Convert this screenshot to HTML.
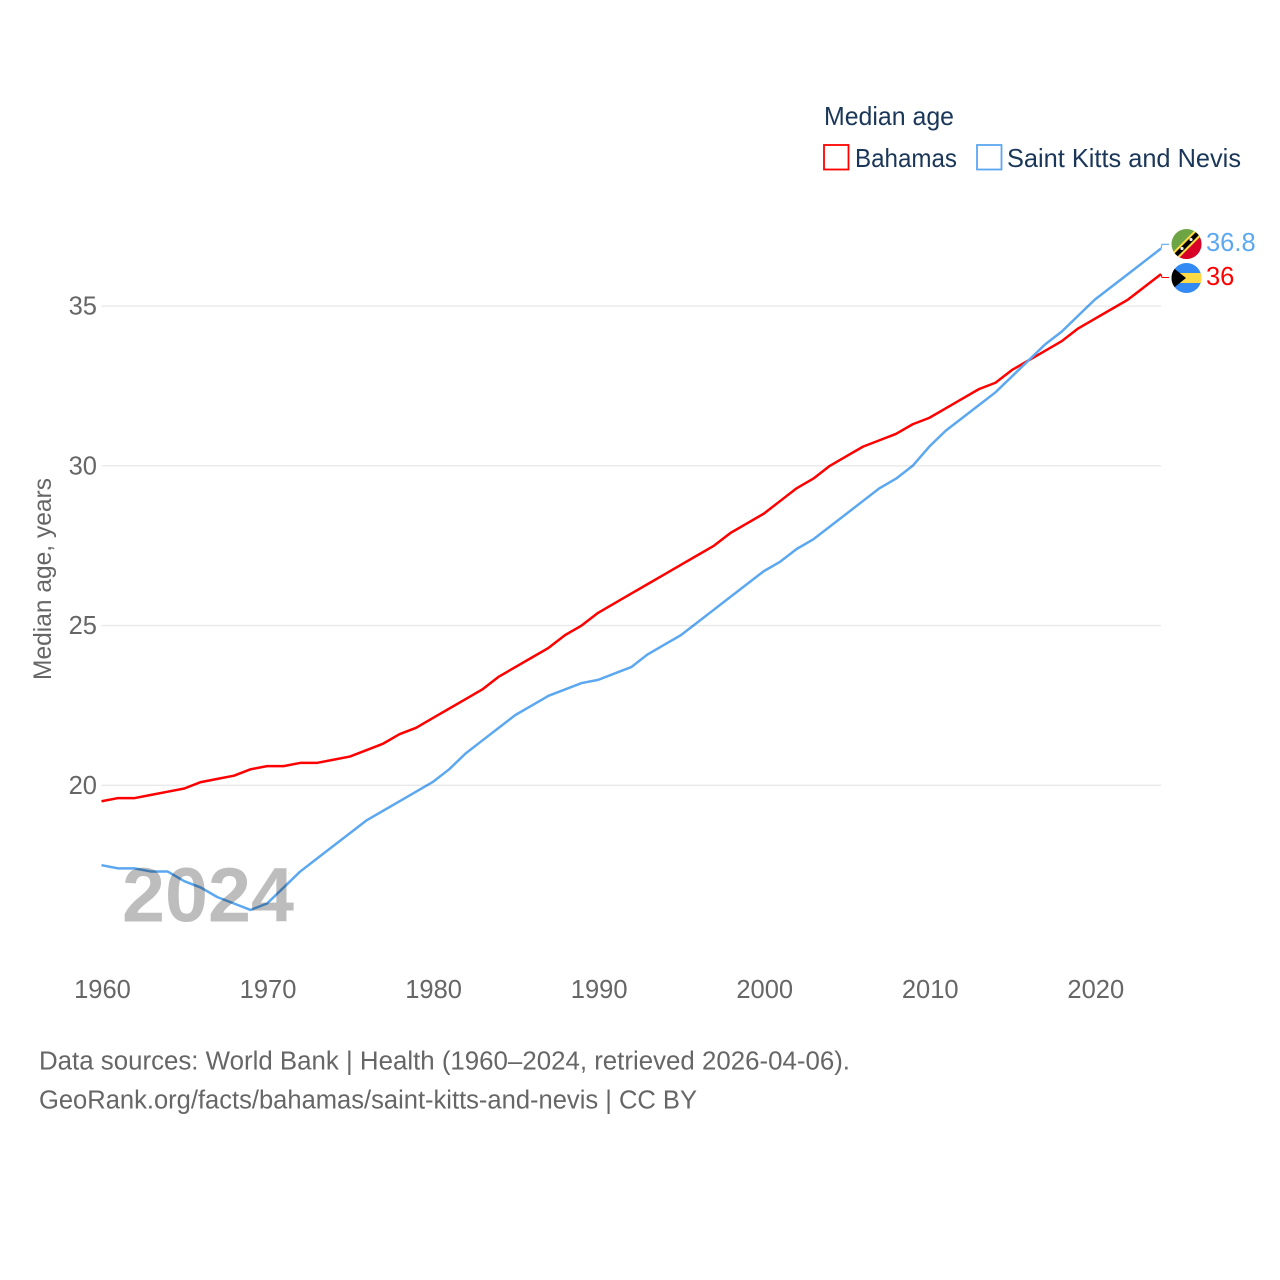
<!DOCTYPE html>
<html lang="en">
<head>
<meta charset="utf-8">
<title>Median age: Bahamas and Saint Kitts and Nevis</title>
<style>
html,body{margin:0;padding:0;background:#fff;width:1280px;height:1280px;overflow:hidden}
svg{display:block}
text{font-family:"Liberation Sans",sans-serif}
</style>
</head>
<body>
<svg id="chart" xmlns="http://www.w3.org/2000/svg" width="1280" height="1280" viewBox="0 0 1280 1280">
  <defs>
    <clipPath id="clip-kn"><circle cx="1186.5" cy="244" r="15"/></clipPath>
    <clipPath id="clip-bs"><circle cx="1186.5" cy="278" r="15"/></clipPath>
  </defs>
  <g id="grid"></g>
  <g id="yticks"></g>
  <g id="xticks"></g>
  <text transform="translate(51,680) rotate(-90)" font-size="25" fill="#666" textLength="202" lengthAdjust="spacingAndGlyphs">Median age, years</text>
  <text x="122" y="921.5" font-size="77" font-weight="bold" fill="#bdbdbd" textLength="172" lengthAdjust="spacingAndGlyphs">2024</text>
  <g id="series" style="mix-blend-mode:multiply"></g>

  <g>
    <text x="824" y="125" font-size="26" fill="#1a3658" textLength="130" lengthAdjust="spacingAndGlyphs">Median age</text>
    <rect x="824" y="145" width="24.5" height="24.5" fill="none" stroke="#ff0000" stroke-width="1.8"/>
    <text x="855" y="167" font-size="26" fill="#1a3658" textLength="102" lengthAdjust="spacingAndGlyphs">Bahamas</text>
    <rect x="977" y="145" width="24.5" height="24.5" fill="none" stroke="#5ca8f0" stroke-width="1.8"/>
    <text x="1007" y="167" font-size="26" fill="#1a3658" textLength="234" lengthAdjust="spacingAndGlyphs">Saint Kitts and Nevis</text>
  </g>

  <g clip-path="url(#clip-kn)">
    <rect x="1171" y="229" width="31" height="31" fill="#6da544"/>
    <polygon points="1202,229 1202,260 1171,260" fill="#d80027"/>
    <polygon points="1171,254 1171,260 1177,260 1202,235 1202,229 1196,229" fill="#ffda44"/>
    <polygon points="1171,257 1174,260 1202,232 1199,229" fill="#000"/>
    <circle cx="1182" cy="248.5" r="1.6" fill="#eee"/>
    <circle cx="1191" cy="239.5" r="1.6" fill="#eee"/>
  </g>
  <g clip-path="url(#clip-bs)">
    <rect x="1171" y="263" width="31" height="31" fill="#338af3"/>
    <rect x="1171" y="273" width="31" height="10" fill="#ffda44"/>
    <polygon points="1171,266 1186,278 1171,290" fill="#000"/>
  </g>

  <g id="endlabels"></g>

  <text x="39" y="1069.5" font-size="25.5" fill="#666" textLength="811" lengthAdjust="spacingAndGlyphs">Data sources: World Bank | Health (1960–2024, retrieved 2026-04-06).</text>
  <text x="39" y="1108.5" font-size="25.5" fill="#666" textLength="658" lengthAdjust="spacingAndGlyphs">GeoRank.org/facts/bahamas/saint-kitts-and-nevis | CC BY</text>
</svg>
<script>
const years = [1960,1961,1962,1963,1964,1965,1966,1967,1968,1969,1970,1971,1972,1973,1974,1975,1976,1977,1978,1979,1980,1981,1982,1983,1984,1985,1986,1987,1988,1989,1990,1991,1992,1993,1994,1995,1996,1997,1998,1999,2000,2001,2002,2003,2004,2005,2006,2007,2008,2009,2010,2011,2012,2013,2014,2015,2016,2017,2018,2019,2020,2021,2022,2023,2024];
const bahamas = [19.5,19.6,19.6,19.7,19.8,19.9,20.1,20.2,20.3,20.5,20.6,20.6,20.7,20.7,20.8,20.9,21.1,21.3,21.6,21.8,22.1,22.4,22.7,23.0,23.4,23.7,24.0,24.3,24.7,25.0,25.4,25.7,26.0,26.3,26.6,26.9,27.2,27.5,27.9,28.2,28.5,28.9,29.3,29.6,30.0,30.3,30.6,30.8,31.0,31.3,31.5,31.8,32.1,32.4,32.6,33.0,33.3,33.6,33.9,34.3,34.6,34.9,35.2,35.6,36.0];
const saintKitts = [17.5,17.4,17.4,17.3,17.3,17.0,16.8,16.5,16.3,16.1,16.3,16.8,17.3,17.7,18.1,18.5,18.9,19.2,19.5,19.8,20.1,20.5,21.0,21.4,21.8,22.2,22.5,22.8,23.0,23.2,23.3,23.5,23.7,24.1,24.4,24.7,25.1,25.5,25.9,26.3,26.7,27.0,27.4,27.7,28.1,28.5,28.9,29.3,29.6,30.0,30.6,31.1,31.5,31.9,32.3,32.8,33.3,33.8,34.2,34.7,35.2,35.6,36.0,36.4,36.8];
const yTickValues = [20,25,30,35];
const xTickValues = [1960,1970,1980,1990,2000,2010,2020];

const NS = 'http://www.w3.org/2000/svg';
function xScale(year){ return 101.5 + (year - 1960) * 16.555; }
function yScale(v){ return 785.3 - (v - 20) * 31.95; }
function make(tag, attrs, parent){
  const el = document.createElementNS(NS, tag);
  for (const k in attrs) el.setAttribute(k, attrs[k]);
  parent.appendChild(el);
  return el;
}
const grid = document.getElementById('grid');
const yticks = document.getElementById('yticks');
const xticks = document.getElementById('xticks');
const series = document.getElementById('series');
const endlabels = document.getElementById('endlabels');

yTickValues.forEach(function(v){
  const line = make('line', {x1:xScale(1960), x2:xScale(2024), y1:yScale(v), y2:yScale(v), stroke:'#e9e9e9', 'stroke-width':1.3}, grid);
  
  
  const t = make('text', {x:97, y:yScale(v)+8.5, 'font-size':25.5, fill:'#666', 'text-anchor':'end'}, yticks);
  
  
  t.textContent = v;
});
xTickValues.forEach(function(y){
  const t = make('text', {x:xScale(y)+1, y:998, 'font-size':25.5, fill:'#666', 'text-anchor':'middle'}, xticks);
  
  
  t.textContent = y;
});
function linePath(values){
  return values.map(function(v,i){ return (i ? 'L' : 'M') + xScale(years[i]).toFixed(2) + ' ' + yScale(v).toFixed(2); }).join(' ');
}
const redLine = make('path', {d:linePath(bahamas), fill:'none', stroke:'#ff0000', 'stroke-width':2.5, 'stroke-linejoin':'round'}, series);


const blueLine = make('path', {d:linePath(saintKitts), fill:'none', stroke:'#5ca8f0', 'stroke-width':2.5, 'stroke-linejoin':'round'}, series);



const lastX = xScale(years[years.length-1]);
const redValue = bahamas[bahamas.length-1];
const blueValue = saintKitts[saintKitts.length-1];
const redEnd = yScale(redValue);
const blueEnd = yScale(blueValue);
const redStub = make('path', {d:'M'+lastX+' '+redEnd+' L'+(lastX+1)+' 277.5 L1169 277.5', fill:'none', stroke:'#ff0000', 'stroke-width':1.1}, endlabels);


const blueStub = make('path', {d:'M'+lastX+' '+blueEnd+' L'+(lastX+1)+' 244.3 L1169 244.3', fill:'none', stroke:'#5ca8f0', 'stroke-width':1.1}, endlabels);


const redLabel = make('text', {x:1206, y:285, 'font-size':25.5, fill:'#ff0000'}, endlabels);


redLabel.textContent = redValue;
const blueLabel = make('text', {x:1206, y:251, 'font-size':25.5, fill:'#5ca8f0'}, endlabels);


blueLabel.textContent = blueValue;
</script>
</body>
</html>
